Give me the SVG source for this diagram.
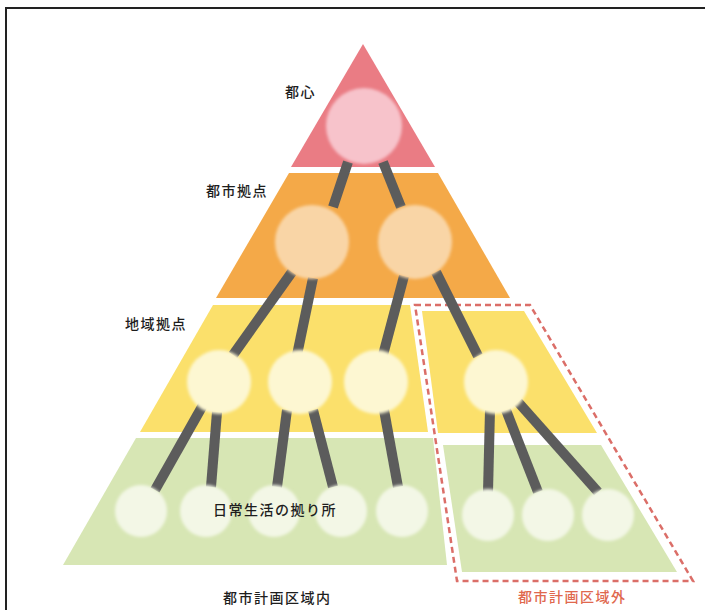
<svg xmlns="http://www.w3.org/2000/svg" width="705" height="610" viewBox="0 0 705 610">
<defs>
<filter id="soft" x="-20%" y="-20%" width="140%" height="140%"><feGaussianBlur stdDeviation="1.8"/></filter>
<style>
.t{font-family:"Noto Sans CJK JP","Noto Sans CJK SC",sans-serif;font-size:14px;font-weight:500;fill:#1e1e1e;letter-spacing:1.5px}
.conn line{stroke:#5c5c5c;stroke-width:10;stroke-linecap:butt}
.c1{fill:#f7c3cb;filter:url(#soft)}
.c2{fill:#f9d5a6;filter:url(#soft)}
.c3{fill:#fdf7d2;filter:url(#soft)}
.c4{fill:#f3f7e6;filter:url(#soft)}
</style>
</defs>
<rect width="705" height="610" fill="#fff"/>
<path d="M6 610 V8 H705" fill="none" stroke="#222" stroke-width="2"/>
<g id="layers">
<polygon points="363,44 435,167 291,167" fill="#ea7c84"/>
<polygon points="289,173 438,173 510,298 216,298" fill="#f4a948"/>
<polygon points="213,305 410,305 428,432 140,432" fill="#fbe06b"/>
<polygon points="136,438 433,438 447,565 63,565" fill="#d7e6b4"/>
<polygon points="422,311 524,311 597,433 438,433" fill="#fbe06b"/>
<polygon points="443,445 601,445 677,572 462,572" fill="#d7e6b4"/>
<polygon points="415,305 530,305 693,581 457,581" fill="none" stroke="#db6e68" stroke-width="2.5" stroke-dasharray="6,4"/>
</g>
<g class="conn" id="connectors">
<line x1="348" y1="162" x2="333" y2="207"/>
<line x1="383" y1="162" x2="401" y2="207"/>
<line x1="292" y1="272" x2="233" y2="355"/>
<line x1="313" y1="278" x2="297" y2="355"/>
<line x1="404" y1="276" x2="383" y2="355"/>
<line x1="436" y1="272" x2="478" y2="356"/>
<line x1="203" y1="405" x2="155" y2="490"/>
<line x1="217" y1="412" x2="211" y2="487"/>
<line x1="287" y1="410" x2="277" y2="487"/>
<line x1="313" y1="410" x2="333" y2="487"/>
<line x1="384" y1="410" x2="398" y2="487"/>
<line x1="490" y1="410" x2="488" y2="492"/>
<line x1="506" y1="410" x2="538" y2="492"/>
<line x1="518" y1="402" x2="598" y2="492"/>
</g>
<g id="n-toshin"><circle class="c1" cx="364" cy="126" r="38"/></g>
<g id="n-city1"><circle class="c2" cx="312" cy="242" r="37"/></g>
<g id="n-city2"><circle class="c2" cx="415" cy="242" r="37"/></g>
<g id="n-reg1"><circle class="c3" cx="219" cy="382" r="32"/></g>
<g id="n-reg2"><circle class="c3" cx="300" cy="382" r="32"/></g>
<g id="n-reg3"><circle class="c3" cx="376" cy="382" r="32"/></g>
<g id="n-reg4"><circle class="c3" cx="496" cy="382" r="32"/></g>
<g id="n-d1"><circle class="c4" cx="141" cy="511" r="26"/></g>
<g id="n-d2"><circle class="c4" cx="206" cy="511" r="26"/></g>
<g id="n-d3"><circle class="c4" cx="274" cy="511" r="26"/></g>
<g id="n-d4"><circle class="c4" cx="341" cy="511" r="26"/></g>
<g id="n-d5"><circle class="c4" cx="402" cy="511" r="26"/></g>
<g id="n-o1"><circle class="c4" cx="488" cy="515" r="26"/></g>
<g id="n-o2"><circle class="c4" cx="548" cy="515" r="26"/></g>
<g id="n-o3"><circle class="c4" cx="608" cy="515" r="26"/></g>
<g id="labels">
<text class="t" x="285" y="97">都心</text>
<text class="t" x="206" y="196">都市拠点</text>
<text class="t" x="125" y="329">地域拠点</text>
<text class="t" x="213" y="515">日常生活の拠り所</text>
<text class="t" x="223" y="603">都市計画区域内</text>
<text class="t" x="518" y="602" style="fill:#e0684e">都市計画区域外</text>
</g>
</svg>
